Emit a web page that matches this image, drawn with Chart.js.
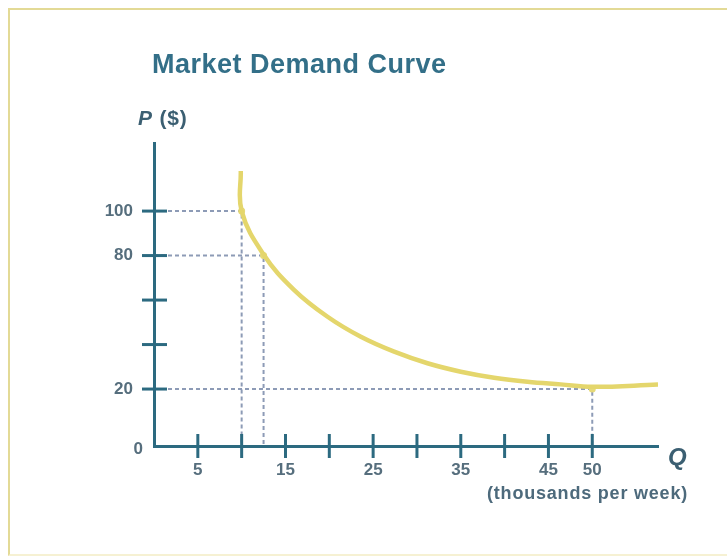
<!DOCTYPE html>
<html>
<head>
<meta charset="utf-8">
<script src="https://cdn.jsdelivr.net/npm/chart.js@4.4.1/dist/chart.umd.min.js"></script>
<style>
    html, body { margin: 0; padding: 0; background: #fff; overflow: hidden; }
    #wrap { position: relative; width: 727px; height: 558px; font-family: 'Liberation Sans', Arial, sans-serif; }
    #frame { position: absolute; left: 8px; top: 8px; width: 760px; height: 544px; border: 2px solid #e3da96; border-bottom-color: #f6f1d3; }
    canvas { position: absolute; left: 0; top: 0; }
    .txt { position: absolute; font-weight: bold; white-space: nowrap; }
    #title { left: 152px; top: 51px; font-size: 27px; line-height: 27px; letter-spacing: 0.5px; color: #336f88; }
    #ylab { left: 138px; top: 107px; font-size: 21px; line-height: 21px; letter-spacing: 0.8px; color: #3b5f72; }
    #qlab { left: 668px; top: 445px; font-size: 24px; line-height: 24px; font-style: italic; color: #3b5f72; }
    #units { left: 487px; top: 484px; font-size: 18px; line-height: 18px; letter-spacing: 0.8px; color: #4d6a7c; }
</style>
</head>
<body>
<div id="wrap">
    <div id="frame"></div>
    <canvas id="demandChart" width="727" height="558"></canvas>
    <div class="txt" id="title">Market Demand Curve</div>
    <div class="txt" id="ylab"><i>P</i> ($)</div>
    <div class="txt" id="qlab">Q</div>
    <div class="txt" id="units">(thousands per week)</div>
</div>
<script>
// Data
const demandQ = [9.9, 10, 12.5, 16, 19.8, 23.6, 27.4, 31.2, 35, 38.8, 42.6, 46.4, 50, 57.5];
const demandP = [118, 100, 80.5, 64.5, 52.5, 43.5, 36.8, 31.6, 27.8, 25.1, 23.3, 22.1, 21, 22];

const markedQ = [10, 12.5, 50];
const markedP = [100, 80, 20];

const xTickValues = [5, 10, 15, 20, 25, 30, 35, 40, 45, 50];
const xTickLabels = ['5', '', '15', '', '25', '', '35', '', '45', '50'];
const yTickValues = [20, 40, 60, 80, 100];
const yTickLabels = ['20', '', '', '80', '100'];
const originLabel = '0';

const xRange = [0, 57.5];
const yRange = [-5.6, 130.6];

// Styles
const axisColor = '#2c6a80';
const labelColor = '#566e7d';
const curveColor = '#e4d66c';
const guideColor = '#8d9bb6';
const labelFont = { family: "'Liberation Sans', Arial, sans-serif", size: 17, weight: 'bold' };

// dashed guides from the axes to each marked point
const guides = markedQ.map((q, i) => ({
    data: [
        { x: xRange[0], y: markedP[i] },
        { x: q, y: markedP[i] },
        { x: q, y: yRange[0] }
    ],
    showLine: true,
    borderColor: guideColor,
    borderWidth: 2,
    borderDash: [4, 3],
    pointRadius: 0,
    order: 3
}));

// tick marks that cross the axis line, plus the origin label
const crossTicks = {
    id: 'crossTicks',
    afterDraw(chart) {
        const { ctx, scales: { x, y } } = chart;
        ctx.save();
        ctx.strokeStyle = axisColor;
        ctx.lineWidth = 3;
        xTickValues.forEach(v => {
            const px = x.getPixelForValue(v);
            ctx.beginPath();
            ctx.moveTo(px, y.bottom - 12);
            ctx.lineTo(px, y.bottom + 12);
            ctx.stroke();
        });
        yTickValues.forEach(v => {
            const py = y.getPixelForValue(v);
            ctx.beginPath();
            ctx.moveTo(x.left - 12, py);
            ctx.lineTo(x.left + 13, py);
            ctx.stroke();
        });
        ctx.fillStyle = labelColor;
        ctx.font = `bold ${labelFont.size}px ${labelFont.family}`;
        ctx.textAlign = 'right';
        ctx.textBaseline = 'middle';
        ctx.fillText(originLabel, x.left - 11, y.bottom + 3);
        ctx.restore();
    }
};

const ctx = document.getElementById('demandChart').getContext('2d');
new Chart(ctx, {
    type: 'scatter',
    data: {
        datasets: [
            {
                label: 'Demand',
                data: demandQ.map((q, i) => ({ x: q, y: demandP[i] })),
                showLine: true,
                borderColor: curveColor,
                borderWidth: 4.5,
                tension: 0.4,
                pointRadius: 0,
                order: 1
            },
            {
                label: 'Points',
                data: markedQ.map((q, i) => ({ x: q, y: markedP[i] })),
                backgroundColor: '#e6da78',
                borderWidth: 0,
                pointRadius: 3.5,
                order: 2
            },
            ...guides
        ]
    },
    options: {
        responsive: false,
        animation: false,
        layout: { padding: { top: 143, right: 69, left: 0, bottom: 0 } },
        plugins: {
            legend: { display: false },
            tooltip: { enabled: false }
        },
        scales: {
            x: {
                type: 'linear',
                min: xRange[0],
                max: xRange[1],
                z: 1,
                grid: { display: false, drawTicks: false },
                border: { color: axisColor, width: 3 },
                afterBuildTicks: s => { s.ticks = xTickValues.map(v => ({ value: v })); },
                afterFit: s => { s.height = 112; },
                ticks: {
                    color: labelColor,
                    font: labelFont,
                    padding: 14,
                    maxRotation: 0,
                    autoSkip: false,
                    callback: (v, i) => xTickLabels[i]
                }
            },
            y: {
                type: 'linear',
                min: yRange[0],
                max: yRange[1],
                z: 1,
                grid: { display: false, drawTicks: false },
                border: { color: axisColor, width: 3 },
                afterBuildTicks: s => { s.ticks = yTickValues.map(v => ({ value: v })); },
                afterFit: s => { s.width = 154; },
                ticks: {
                    color: labelColor,
                    font: labelFont,
                    padding: 21,
                    autoSkip: false,
                    callback: (v, i) => yTickLabels[i]
                }
            }
        }
    },
    plugins: [crossTicks]
});
</script>
</body>
</html>
